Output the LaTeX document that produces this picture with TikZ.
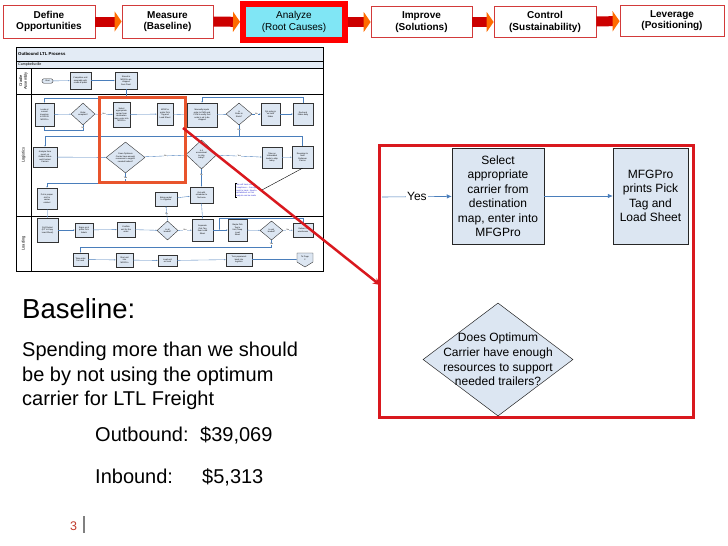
\documentclass[tikz,border=0pt]{standalone}
\usepackage{fontspec}
\setmainfont{Liberation Sans}
\usetikzlibrary{arrows.meta,shapes.geometric,positioning}

\definecolor{boxblue}{HTML}{DCE6F2}
\definecolor{flowblue}{HTML}{4A7EBB}
\definecolor{laneblue}{HTML}{E3EBF5}
\definecolor{hiliteorange}{HTML}{E8542C}
\definecolor{zoomred}{HTML}{D9181E}
\definecolor{stepcyan}{HTML}{80E6F5}
\definecolor{steprim}{HTML}{D23A3A}
\definecolor{noteblue}{HTML}{2A2AD0}
\definecolor{pagered}{HTML}{C0392B}

\tikzset{
  stepbox/.style={draw=steprim, line width=0.8pt, fill=white, align=center, inner sep=0pt,
    font=\fontsize{10}{11.5}\selectfont\bfseries},
  steparrow/.style={line width=10pt, draw=red!80!black,
    -{Triangle[length=7pt,width=20pt,color=orange!85!red]}},
  mapbox/.style={draw=black!80, fill=boxblue, line width=0.4pt, inner sep=0pt, align=center,
    font=\fontsize{2.1}{2.5}\selectfont},
  mapdec/.style={mapbox, diamond, aspect=1.2},
  mapflow/.style={draw=flowblue, line width=0.35pt, -{Latex[length=1.4pt,width=1.2pt]}},
  mapjoin/.style={draw=flowblue, line width=0.35pt},
  maplabel/.style={fill=white, inner sep=0.2pt, font=\fontsize{2}{2.2}\selectfont},
  lanelabel/.style={rotate=90, align=center, font=\fontsize{4}{4.6}\selectfont},
  bigbox/.style={draw=black!85, fill=boxblue, line width=0.5pt, align=center, inner sep=0pt,
    font=\fontsize{12}{14.5}\selectfont},
  bigflow/.style={draw=flowblue, line width=0.6pt, -{Latex[length=5pt,width=4.5pt]}},
  slidetext/.style={anchor=base west, inner sep=0pt, font=\fontsize{20}{24.5}\selectfont}
}

\begin{document}
\begin{tikzpicture}[x=1pt, y=-1pt]
\useasboundingbox (0,0) rectangle (728,546);

%steps
\node[stepbox, minimum width=92, minimum height=33] (define) at (49,21.5) {Define\\Opportunities};
\node[stepbox, minimum width=91, minimum height=33] (measure) at (167.5,21.5) {Measure\\(Baseline)};
\node[stepbox, draw=red, line width=6pt, fill=stepcyan, minimum width=102, minimum height=36,
  font=\fontsize{10}{11.5}\selectfont] (analyze) at (294,22) {Analyze\\(Root Causes)};
\node[stepbox, minimum width=101, minimum height=31] (improve) at (421.5,22) {Improve\\(Solutions)};
\node[stepbox, minimum width=102, minimum height=31] (control) at (545,22) {Control\\(Sustainability)};
\node[stepbox, minimum width=104, minimum height=31] (leverage) at (672,20.5) {Leverage\\(Positioning)};

\draw[steparrow] (define) -- (measure);
\draw[steparrow] (measure) -- (analyze);
\draw[steparrow] (analyze) -- (improve);
\draw[steparrow] (improve) -- (control);
\draw[steparrow] (control) -- (leverage);

%process map frame
\fill[laneblue] (16,47) rectangle (323,68);
\draw[line width=0.5pt] (16,47) rectangle (323,271);
\draw[line width=0.4pt] (16,61) -- (323,61);
\draw[line width=0.4pt] (16,68) -- (323,68);
\draw[line width=0.4pt] (16,94) -- (323,94);
\draw[line width=0.4pt] (16,216) -- (323,216);
\draw[line width=0.4pt] (31,68) -- (31,271);
\node[anchor=west, inner sep=0pt, font=\fontsize{4.3}{5}\selectfont\bfseries] (maptitle) at (18,54) {Outbound LTL Process};
\node[anchor=west, inner sep=0pt, font=\fontsize{3.6}{4}\selectfont] (site) at (18,64.5) {Campbellsville};
\node[lanelabel] (lanecradle) at (23.5,81) {Cradle\\Assembly};
\node[lanelabel] (lanelog) at (23.5,155) {Logistics};
\node[lanelabel] (laneload) at (23.5,243.5) {Loading};

%cradle assembly
\node[mapbox, rounded corners=2pt, minimum width=11, minimum height=4.5] (start) at (47.5,81) {Start};
\node[mapbox, minimum width=21, minimum height=17] (assemble) at (80.5,80.5) {Completes unit\\assembly with\\cradle \& pallet};
\node[mapbox, minimum width=22, minimum height=17] (stored) at (126,80.5) {Stored in\\MFGPro as\\shipped\\from Plant};

%logistics
\node[mapbox, minimum width=19, minimum height=23] (looks) at (44.5,114.5) {Looks at\\current\\inventory\\in DDS \&\\MFGPro};
\node[mapdec, minimum width=24, minimum height=22] (ordok) at (83,114) {Order\\complete?};
\node[mapbox, minimum width=17, minimum height=25] (select) at (121.5,114.5) {Select\\appropriate\\carrier from\\destination\\map, enter into\\MFGPro};
\node[mapbox, minimum width=16, minimum height=22] (prints) at (165,114) {MFGPro\\prints Pick\\Tag and\\Load Sheet};
\node[mapbox, minimum width=30, minimum height=24] (manual) at (202,115) {Manually inputs\\order to PMS and\\PCM to verify that\\order is ok to be\\shipped};
\node[mapdec, minimum width=26, minimum height=22] (instock) at (239,114) {Is\\Order in\\Stock?};
\node[mapbox, minimum width=19, minimum height=22] (hold) at (270.5,114) {Put order in\\``on hold''\\folder};
\node[mapbox, minimum width=20, minimum height=22] (recheck) at (303,114) {Recheck\\folder daily};
\node[mapbox, minimum width=24, minimum height=20] (report) at (45,157) {Analyze from\\report on\\Orders Status\\and Contact\\Carriers};
\node[mapdec, minimum width=39, minimum height=31] (optdec) at (125.5,157.5) {Does Optimum\\Carrier have enough\\resources to support\\needed trailers?};
\node[mapdec, minimum width=31, minimum height=29] (okship) at (201.5,154.5) {Is it\\economical\\to ship\\today?};
\node[mapbox, minimum width=20, minimum height=21] (unbundle) at (272,157.5) {Take on\\Unbundled\\loads to ship\\today};
\node[mapbox, minimum width=21, minimum height=22] (reassign) at (302.5,157) {Reassign to\\Next\\Optimum\\Carrier};
\node[align=left, inner sep=0.5pt, text=noteblue, font=\fontsize{2.1}{2.6}\selectfont] (note) at (248,190.5) {This will track cost of\\Compliance -- Savings are\\tough to track. Need a\\spreadsheet so that\\analysis can be made};
\draw[line width=0.4pt] ([xshift=2pt]note.north west) -- (note.north west) -- (note.south west) -- ([xshift=2pt]note.south west);
\node[mapbox, minimum width=20, minimum height=21] (putcab) at (47,198.5) {Put in proper\\slot for\\carrier\\cabinet};
\node[mapbox, minimum width=22, minimum height=14] (bring) at (166,199) {Bring packet\\to Logistics};
\node[mapbox, minimum width=23, minimum height=16] (sched) at (201.5,195) {Get with\\scheduler to\\find area};

%loading
\node[mapbox, minimum width=21, minimum height=24] (pull) at (47.5,230) {Pull Packet\\(P/T \& Copy\\Load Sheet)};
\node[mapbox, minimum width=18, minimum height=14] (signs) at (84,230) {Signs on \&\\prints Pick\\tickets};
\node[mapbox, minimum width=18, minimum height=15] (confirm) at (126,229.5) {Confirm\\unit for the\\order};
\node[mapdec, minimum width=21, minimum height=19] (allload) at (167.5,230.5) {Is all\\loaded?};
\node[mapbox, minimum width=21, minimum height=22] (separate) at (202.5,230) {Separate\\Pick Tag\\from Load\\Sheet};
\node[mapbox, minimum width=19, minimum height=22] (staple) at (237.5,230) {Staple Pick\\Tag to\\Unit, Keep\\Load\\Sheet};
\node[mapdec, minimum width=23, minimum height=19] (unitload) at (271.5,230.5) {Is unit\\loaded?};
\node[mapbox, minimum width=20, minimum height=14] (deliver) at (303,230) {Deliver to\\warehouse};
\node[mapbox, minimum width=15, minimum height=13] (takeord) at (80.5,259.5) {Take order\\for truck};
\node[mapbox, minimum width=17, minimum height=14] (startunit) at (124.5,260) {Start unit\\into\\MFGPro};
\node[mapbox, minimum width=19, minimum height=11] (loadunit) at (167.5,260.5) {Load unit\\on truck};
\node[mapbox, minimum width=26, minimum height=13] (paper) at (239,259.5) {Turn paperwork\\back into\\logistics};
\filldraw[draw=black!80, fill=boxblue, line width=0.4pt] (297,253) -- (313,253) -- (313,262) -- (305,267) -- (297,262) -- cycle;
\node[inner sep=0pt, align=center, font=\fontsize{2.1}{2.5}\selectfont] (topage) at (305,258.5) {To Page\\2};

%map flow
\draw[mapflow] (start) -- (assemble);
\draw[mapflow] (assemble) -- (stored);
\draw[mapflow] (stored.south) -- (126,98) -| (looks.north);
\draw[mapflow] (looks) -- (ordok);
\draw[mapflow] (ordok) -- node[maplabel] (yes1) {Yes} (select);
\draw[mapflow] (ordok.south) -- node[maplabel, pos=0.5] (no1) {No} (83,130) -| (looks.south);
\draw[mapflow] (select) -- (prints);
\draw[mapflow] (prints) -- (manual);
\draw[mapflow] (manual) -- (instock);
\draw[mapflow] (instock) -- node[maplabel] (no2) {No} (hold);
\draw[mapflow] (hold) -- (recheck);
\draw[mapflow] (recheck.north) -- (303,97) -| (manual.north);
\draw[mapflow] (instock.south) -- node[maplabel, pos=0.4] (yes2) {Yes} (239,136) -| (report.north);
\draw[mapjoin] (reassign.north) -- (302.5,136) -- (239,136);
\draw[mapflow] (report) -- (optdec);
\draw[mapflow] (optdec) -- node[maplabel] (no3) {No} (okship);
\draw[mapflow] (okship) -- node[maplabel] (yes3) {Yes} (unbundle);
\draw[mapflow] (unbundle) -- (reassign);
\draw[mapflow] (optdec.south) -- node[maplabel, pos=0.5] (yes4) {Yes} (125.5,183) -| (putcab.north);
\draw[mapflow] (okship.south) -- node[maplabel, pos=0.3] (no4) {No} (sched.north);
\draw[line width=0.4pt] (note.east) -- (reassign.south);
\draw[mapflow] (bring) -- (sched);
\draw[mapflow] (putcab) -- (pull);
\draw[mapflow] (pull) -- (signs);
\draw[mapflow] (signs) -- (confirm);
\draw[mapflow] (confirm) -- (allload);
\draw[mapflow] (allload) -- node[maplabel] (yes5) {Yes} (separate);
\draw[mapflow] (allload.north) -- node[maplabel] (no5) {No} (bring.south);
\draw[mapflow] (sched.south) -- (separate.north);
\draw[mapflow] (separate) -- (staple);
\draw[mapflow] (staple) -- (unitload);
\draw[mapflow] (unitload) -- node[maplabel] (no6) {No} (deliver);
\draw[mapflow] (deliver.north) -- (303,218.5) -| (219.5,230);
\draw[mapflow] (unitload.south) -- node[maplabel, pos=0.5] (yes6) {Yes} (271.5,247) -| (takeord.north);
\draw[mapflow] (takeord) -- (startunit);
\draw[mapflow] (startunit) -- (loadunit);
\draw[mapflow] (loadunit) -- (paper);
\draw[mapflow] (paper) -- (297,259.5);

%highlight + zoom
\draw[hiliteorange, line width=3pt] (99,97) rectangle (185,182);
\coordinate (zoomfrom) at (183,128);
\coordinate (zoomto) at (380,285);
\draw[zoomred, line width=2.5pt, -{Stealth[length=7pt,width=7pt]}] (zoomfrom) -- (zoomto);
\draw[zoomred, line width=3pt] (379,145) rectangle (693,417);

\coordinate (yesin) at (382,197);
\node[bigbox, minimum width=92, minimum height=96] (bigselect) at (498,196) {Select\\appropriate\\carrier from\\destination\\map, enter into\\MFGPro};
\node[bigbox, minimum width=75, minimum height=96] (bigprints) at (650.5,196) {MFGPro\\prints Pick\\Tag and\\Load Sheet};
\draw[bigflow] (yesin) -- node[fill=white, inner sep=1pt, font=\fontsize{12}{14}\selectfont] (bigyes) {Yes} (bigselect);
\draw[bigflow] (bigselect) -- (bigprints);
\node[diamond, draw=black!85, fill=boxblue, line width=0.5pt, minimum width=150, minimum height=113, inner sep=0pt] (bigdec) at (498,359.5) {};
\node[align=center, inner sep=0pt, font=\fontsize{12}{14.6}\selectfont] (bigdectext) at (bigdec.center) {Does Optimum\\Carrier have enough\\resources to support\\needed trailers?};

%slide text
\node[slidetext, font=\fontsize{27.5}{30}\selectfont] (baseline) at (22,318) {Baseline:};
\node[anchor=north west, inner sep=0pt, align=left, font=\fontsize{20}{24.5}\selectfont] (spend) at (22,342) {Spending more than we should\\be by not using the optimum\\carrier for LTL Freight};
\node[slidetext] (outlabel) at (95,441) {Outbound:};
\node[slidetext] (outvalue) at (200,441) {\$39,069};
\node[slidetext] (inlabel) at (95,483) {Inbound:};
\node[slidetext] (invalue) at (202,483) {\$5,313};
\node[slidetext, text=pagered, font=\fontsize{12.5}{14}\selectfont] (pagenum) at (70,530) {3};
\draw[gray, line width=2pt] (84,516) -- (84,533);

\end{tikzpicture}
\end{document}
